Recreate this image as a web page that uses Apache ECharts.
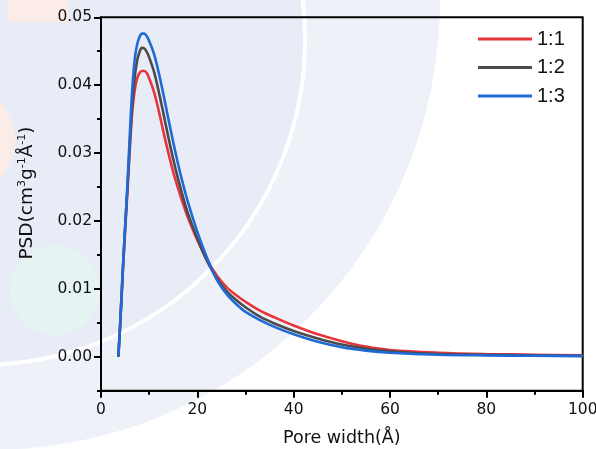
<!DOCTYPE html>
<html>
<head>
<meta charset="utf-8">
<script src="https://cdn.jsdelivr.net/npm/echarts@6/dist/echarts.min.js"></script>
<style>
html,body{margin:0;padding:0;background:#fff;}
#chart{width:596px;height:449px;}
</style>
</head>
<body>
<div id="chart"></div>
<script>
const poreWidth = [3.6,4,4.5,5,5.5,6,6.5,7,7.5,8,8.5,9,9.5,10,11,12,13,14,15,16,17,18,20,22,24,26,28,30,33,36,40,45,50,55,60,70,80,90,100];
const psd11 = [0,0.005,0.012,0.0185,0.0245,0.031,0.0362,0.0393,0.0410,0.0418,0.0421,0.0421,0.0418,0.0410,0.0390,0.0362,0.0330,0.0300,0.0272,0.0248,0.0226,0.0206,0.0172,0.0143,0.0120,0.0103,0.0091,0.0081,0.0068,0.0058,0.0046,0.0033,0.0023,0.0015,0.0010,0.0006,0.0004,0.0003,0.0002];
const psd12 = [0,0.005,0.0123,0.019,0.025,0.0315,0.0372,0.0412,0.0436,0.0449,0.0455,0.0454,0.0449,0.0441,0.0420,0.0390,0.0357,0.0323,0.0291,0.0262,0.0236,0.0212,0.0174,0.0141,0.0116,0.0097,0.0084,0.0073,0.0059,0.0049,0.0038,0.0027,0.0018,0.0012,0.0008,0.0004,0.0003,0.0002,0.00015];
const psd13 = [0,0.005,0.0125,0.019,0.0255,0.033,0.0395,0.0438,0.0460,0.0471,0.0476,0.0476,0.0472,0.0465,0.0446,0.0418,0.0385,0.0350,0.0316,0.0284,0.0255,0.0229,0.0184,0.0146,0.0114,0.0093,0.0078,0.0066,0.0054,0.0044,0.0033,0.0022,0.0014,0.0009,0.0006,0.0003,0.0002,0.00015,0.0001];
const seriesNames = ['1:1','1:2','1:3'];
const seriesColors = ['#e8343c','#4b4b4b','#1f6ad8'];
const yMajorTicks = [0,0.01,0.02,0.03,0.04,0.05];
const yMinorTicks = [-0.005,0.005,0.015,0.025,0.035,0.045];

const allData = [psd11, psd12, psd13];
const chart = echarts.init(document.getElementById('chart'), null, {renderer:'canvas'});
const font = 'DejaVu Sans';
const option = {
  backgroundColor: '#ffffff',
  animation: false,
  graphic: [
    {type:'circle', z:-10, silent:true, shape:{cx:-10, cy:0, r:450}, style:{fill:'#eef1f8'}},
    {type:'circle', z:-9, silent:true, shape:{cx:-20, cy:40, r:325}, style:{fill:'#e8ecf6', stroke:'#ffffff', lineWidth:4}},
    {type:'rect', z:-8, silent:true, shape:{x:8, y:0, width:60, height:22}, style:{fill:'#fcece8'}},
    {type:'circle', z:-8, silent:true, shape:{cx:-40, cy:140, r:55}, style:{fill:'#fcece8'}},
    {type:'circle', z:-8, silent:true, shape:{cx:55, cy:290, r:45}, style:{fill:'#e5f4f3'}}
  ],
  grid: {left:101, right:13.3, top:17.3, bottom:58.3, outerBoundsMode:'none', containLabel:false, show:true, borderColor:'#000', borderWidth:2, backgroundColor:'transparent'},
  legend: {
    orient:'vertical', left:473, top:24, itemGap:8.5, itemWidth:54, itemHeight:3, icon:'rect',
    textStyle:{fontFamily:'Liberation Sans', fontSize:20, color:'#111', lineHeight:20},
    data: seriesNames
  },
  xAxis: {
    type:'value', min:0, max:100, interval:20,
    name:'Pore width(Å)', nameLocation:'middle', nameGap:39,
    nameTextStyle:{fontFamily:font, fontSize:17.5, color:'#111'},
    axisLine:{show:true, onZero:false, lineStyle:{color:'#000', width:2}},
    axisTick:{show:true, length:7, lineStyle:{color:'#000', width:2}},
    minorTick:{show:true, splitNumber:2, length:4, lineStyle:{color:'#000', width:2}},
    axisLabel:{fontFamily:font, fontSize:15.5, color:'#111', margin:11},
    splitLine:{show:false}
  },
  yAxis: [
    {
      type:'value', min:-0.005, max:0.05, position:'left',
      name:'{t|PSD(cm}{s|3}{t|g}{s|-1}{t|Å}{s|-1}{t|)}', nameLocation:'middle', nameGap:63, nameRotate:90,
      nameTextStyle:{padding:[0,0,0,22], rich:{
        t:{fontFamily:font, fontSize:18.5, color:'#111'},
        s:{fontFamily:font, fontSize:11, color:'#111', verticalAlign:'top', padding:[0,0,10,0]}
      }},
      axisLine:{show:true, onZero:false, lineStyle:{color:'#000', width:2}},
      axisTick:{show:true, length:7, customValues:yMajorTicks, lineStyle:{color:'#000', width:2}},
      axisLabel:{fontFamily:font, fontSize:15.5, color:'#111', margin:9, customValues:yMajorTicks, formatter:v => v.toFixed(2)},
      splitLine:{show:false}
    },
    {
      type:'value', min:-0.005, max:0.05, position:'left', offset:0,
      axisLine:{show:false},
      axisTick:{show:true, length:4, customValues:yMinorTicks, lineStyle:{color:'#000', width:2}},
      axisLabel:{show:false},
      splitLine:{show:false}
    }
  ],
  series: seriesNames.map((name, i) => ({
    name: name,
    type:'line',
    yAxisIndex:0,
    data: poreWidth.map((x, j) => [x, allData[i][j]]),
    showSymbol:false,
    smooth:0.35,
    lineStyle:{color:seriesColors[i], width:2.6},
    itemStyle:{color:seriesColors[i]},
    z: 3 + i
  }))
};
chart.setOption(option);
</script>
</body>
</html>
